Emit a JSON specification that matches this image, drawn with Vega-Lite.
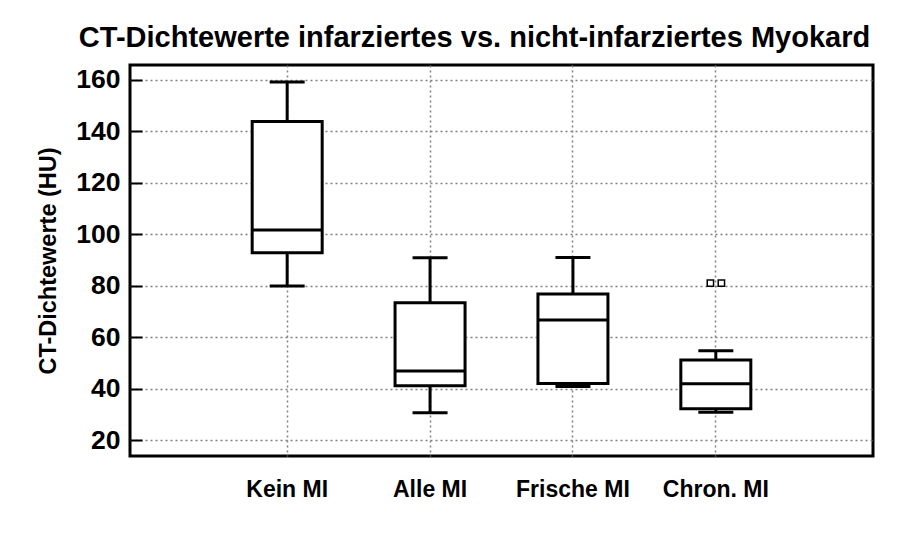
{
  "$schema": "https://vega.github.io/schema/vega-lite/v6.json",
  "width": 743,
  "height": 391,
  "autosize": "none",
  "padding": {"left": 130, "top": 65, "right": 25, "bottom": 85},
  "background": "white",
  "title": {
    "text": "CT-Dichtewerte infarziertes vs. nicht-infarziertes Myokard",
    "font": "Liberation Sans",
    "fontSize": 29,
    "fontWeight": "bold",
    "color": "black",
    "anchor": "middle",
    "frame": "group",
    "dx": -27,
    "offset": 12
  },
  "config": {"view": {"stroke": "black", "strokeWidth": 3}, "font": "Liberation Sans"},
  "datasets": {
    "boxes": [
      {"group": "Kein MI", "lo": 79.9, "q1": 92.8, "med": 101.7, "q3": 143.8, "hi": 159.2},
      {"group": "Alle MI", "lo": 30.6, "q1": 41.1, "med": 46.8, "q3": 73.4, "hi": 90.9},
      {"group": "Frische MI", "lo": 40.8, "q1": 42.0, "med": 66.7, "q3": 76.8, "hi": 91.0},
      {"group": "Chron. MI", "lo": 30.8, "q1": 32.2, "med": 41.9, "q3": 51.1, "hi": 54.7}
    ],
    "outliers": [
      {"group": "Chron. MI", "value": 81, "k": 0},
      {"group": "Chron. MI", "value": 81, "k": 1}
    ]
  },
  "encoding": {
    "x": {
      "field": "group",
      "type": "nominal",
      "scale": {
        "type": "band",
        "domain": ["Kein MI", "Alle MI", "Frische MI", "Chron. MI"],
        "paddingInner": 0,
        "paddingOuter": 0.6
      },
      "axis": {
        "title": null,
        "labelFont": "Liberation Sans",
        "labelFontSize": 23,
        "labelFontWeight": "bold",
        "labelColor": "black",
        "labelPadding": 22,
        "labelAngle": 0,
        "ticks": false,
        "domain": false,
        "grid": true,
        "gridColor": "#808080",
        "gridDash": [2, 3],
        "gridWidth": 1.5,
        "bandPosition": 0.5
      }
    }
  },
  "layer": [
    {
      "data": {"name": "boxes"},
      "mark": {"type": "rule", "color": "black", "strokeWidth": 3},
      "encoding": {
        "y": {
          "field": "lo",
          "type": "quantitative",
          "scale": {"domain": [13.8, 165.8], "nice": false, "zero": false},
          "axis": {
            "title": "CT-Dichtewerte (HU)",
            "titleFont": "Liberation Sans",
            "titleFontSize": 23.5,
            "titleFontWeight": "bold",
            "titleColor": "black",
            "titlePadding": 15,
            "values": [20, 25, 30, 35, 40, 45, 50, 55, 60, 65, 70, 75, 80, 85, 90, 95, 100, 105, 110, 115, 120, 125, 130, 135, 140, 145, 150, 155, 160],
            "labelExpr": "datum.value % 20 === 0 ? datum.label : ''",
            "labelFont": "Liberation Sans",
            "labelFontSize": 26.5,
            "labelFontWeight": "bold",
            "labelColor": "black",
            "labelPadding": 22,
            "labelOverlap": false,
            "tickSize": -12,
            "tickWidth": 2,
            "tickColor": "black",
            "tickDash": {"condition": {"test": "datum.value % 20 === 0", "value": []}, "value": [6, 20]},
            "domain": false,
            "grid": true,
            "gridColor": "#808080",
            "gridDash": [2, 3],
            "gridWidth": 1.5,
            "gridOpacity": {"condition": {"test": "datum.value % 20 === 0", "value": 1}, "value": 0}
          }
        },
        "y2": {"field": "hi"}
      }
    },
    {
      "data": {"name": "boxes"},
      "mark": {"type": "bar", "fill": "white", "stroke": "black", "strokeWidth": 3, "width": 70},
      "encoding": {
        "y": {"field": "q1", "type": "quantitative"},
        "y2": {"field": "q3"}
      }
    },
    {
      "data": {"name": "boxes"},
      "mark": {"type": "tick", "color": "black", "size": 70, "thickness": 3, "opacity": 1},
      "encoding": {
        "y": {"field": "med", "type": "quantitative"}
      }
    },
    {
      "data": {"name": "boxes"},
      "mark": {"type": "tick", "color": "black", "size": 35, "thickness": 3, "opacity": 1},
      "encoding": {
        "y": {"field": "lo", "type": "quantitative"}
      }
    },
    {
      "data": {"name": "boxes"},
      "mark": {"type": "tick", "color": "black", "size": 35, "thickness": 3, "opacity": 1},
      "encoding": {
        "y": {"field": "hi", "type": "quantitative"}
      }
    },
    {
      "data": {"name": "outliers"},
      "mark": {"type": "point", "shape": "square", "size": 40, "filled": false, "fill": "white", "stroke": "black", "strokeWidth": 1.5, "opacity": 1},
      "encoding": {
        "y": {"field": "value", "type": "quantitative"},
        "xOffset": {"field": "k", "type": "quantitative", "scale": {"domain": [0, 1], "range": [66, 77]}}
      }
    }
  ]
}
